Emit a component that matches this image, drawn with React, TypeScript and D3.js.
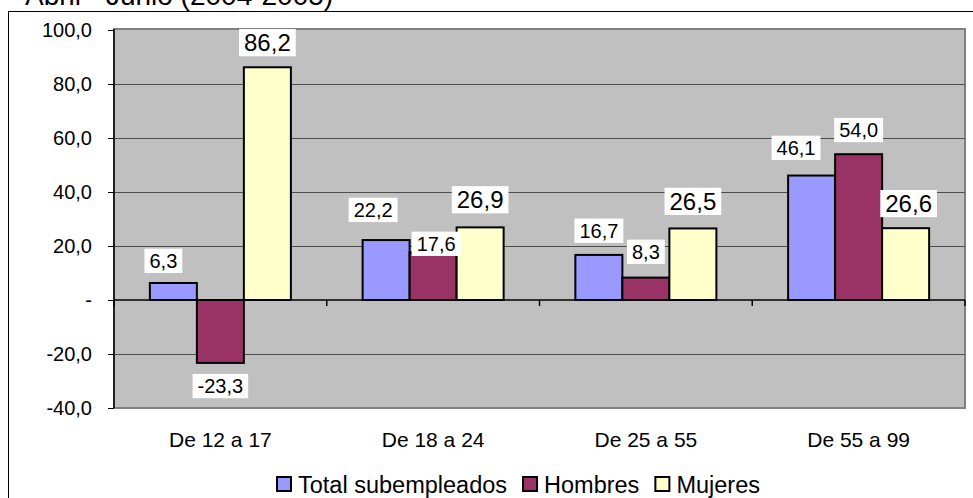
import React from "react";
import * as d3 from "d3";

const title = "Abril - Junio (2004-2005)";
const categories = ["De 12 a 17", "De 18 a 24", "De 25 a 55", "De 55 a 99"];
const seriesNames = ["Total subempleados", "Hombres", "Mujeres"];
const totalValues = [6.3, 22.2, 16.7, 46.1];
const hombresValues = [-23.3, 17.6, 8.3, 54.0];
const mujeresValues = [86.2, 26.9, 26.5, 26.6];
const yTicks = [-40, -20, 0, 20, 40, 60, 80, 100];

const seriesColors = ["#9999ff", "#993366", "#ffffcc"];
const labelSizes = [20, 20, 24];
// small nudges so labels sit where the original spreadsheet put them [dx, dy]
const labelNudge = [
  [[-10, 2], [0, 0], [0, 1]],
  [[-13, -6], [3, 15.5], [0, -2]],
  [[0, 0], [0, -1.6], [0, -1.5]],
  [[-15.6, -3.5], [0, 0], [3, 1]],
];

const W = 973;
const H = 498;
const plot = { left: 114, right: 965, top: 30, bottom: 408 };
const font = "'Liberation Sans', Arial, sans-serif";

// spanish style: decimal comma, plain hyphen for the minus sign
const locale = d3.formatLocale({
  decimal: ",",
  thousands: ".",
  grouping: [3],
  currency: ["", ""],
  minus: "-",
});
const comma = locale.format(".1f");

class App extends React.Component {
  svg: SVGSVGElement | null = null;

  componentDidMount() {
    this.drawChart();
  }

  shouldComponentUpdate() {
    return false;
  }

  drawChart() {
    const svg = d3.select(this.svg);
    svg.selectAll("*").remove();
    const series = [totalValues, hombresValues, mujeresValues];

    // outer chart frame
    svg.append("rect")
      .attr("x", 8.5).attr("y", 11.5)
      .attr("width", 1200).attr("height", 800)
      .attr("fill", "none").attr("stroke", "#000").attr("stroke-width", 1);

    svg.append("text")
      .attr("x", 25).attr("y", 5)
      .attr("font-family", font).attr("font-size", 28)
      .text(title);

    const x = d3.scaleBand<string>()
      .domain(categories)
      .range([plot.left, plot.right])
      .paddingInner(0).paddingOuter(0);

    const xs = d3.scaleBand<string>()
      .domain(seriesNames)
      .range([0, x.bandwidth()])
      .paddingInner(0).paddingOuter(0.763);

    const y = d3.scaleLinear().domain([-40, 100]).range([plot.bottom, plot.top]);

    // plot area
    svg.append("rect")
      .attr("x", plot.left).attr("y", plot.top - 1)
      .attr("width", plot.right - plot.left).attr("height", plot.bottom - plot.top + 1)
      .attr("fill", "#c0c0c0").attr("stroke", "#808080").attr("stroke-width", 2);

    // gridlines
    svg.append("g")
      .selectAll("line")
      .data(yTicks.filter((t) => t !== 0 && t !== -40 && t !== 100))
      .enter().append("line")
      .attr("x1", plot.left).attr("x2", plot.right)
      .attr("y1", (d) => Math.round(y(d)) + 0.5).attr("y2", (d) => Math.round(y(d)) + 0.5)
      .attr("stroke", "#4d4d4d").attr("stroke-width", 1);

    // bars
    categories.forEach((c, ci) => {
      seriesNames.forEach((s, si) => {
        const v = series[si][ci];
        svg.append("rect")
          .attr("x", (x(c) as number) + (xs(s) as number))
          .attr("width", xs.bandwidth())
          .attr("y", y(Math.max(0, v)))
          .attr("height", Math.abs(y(v) - y(0)))
          .attr("fill", seriesColors[si])
          .attr("stroke", "#000").attr("stroke-width", 2);
      });
    });

    // y axis
    const yAxis = svg.append("g")
      .attr("transform", "translate(" + plot.left + ",0)")
      .call(d3.axisLeft(y).tickValues(yTicks).tickSize(6).tickPadding(16)
        .tickFormat((d) => (+d === 0 ? "-" : comma(+d))));
    yAxis.select(".domain").attr("stroke", "#000").attr("stroke-width", 1.5)
      .attr("d", "M0," + (plot.top - 1) + "V" + plot.bottom);
    yAxis.selectAll("text").attr("font-family", font).attr("font-size", 20).attr("fill", "#000");

    // x axis at zero
    svg.append("line")
      .attr("x1", plot.left).attr("x2", plot.right)
      .attr("y1", y(0)).attr("y2", y(0))
      .attr("stroke", "#000").attr("stroke-width", 1.5);
    svg.append("g")
      .selectAll("line")
      .data(d3.range(categories.length + 1))
      .enter().append("line")
      .attr("x1", (i) => plot.left + i * x.step()).attr("x2", (i) => plot.left + i * x.step())
      .attr("y1", y(0)).attr("y2", y(0) + 6)
      .attr("stroke", "#000").attr("stroke-width", 1.5);

    svg.append("g")
      .selectAll("text")
      .data(categories)
      .enter().append("text")
      .attr("x", (d) => (x(d) as number) + x.bandwidth() / 2)
      .attr("y", 447)
      .attr("text-anchor", "middle")
      .attr("font-family", font).attr("font-size", 21)
      .text((d) => d);

    // data labels on white boxes
    categories.forEach((c, ci) => {
      seriesNames.forEach((s, si) => {
        const v = series[si][ci];
        const fs = labelSizes[si];
        const boxH = fs * 0.716 + 10;
        const [dx, dy] = labelNudge[ci][si];
        const cx = (x(c) as number) + (xs(s) as number) + xs.bandwidth() / 2 + dx;
        const bottom = v >= 0 ? y(v) - 12 + dy : y(v) + 11 + boxH + dy;
        const g = svg.append("g");
        const t = g.append("text")
          .attr("x", cx).attr("y", bottom - 5)
          .attr("text-anchor", "middle")
          .attr("font-family", font).attr("font-size", fs)
          .text(comma(v));
        const tw = (t.node() as SVGTextElement).getComputedTextLength();
        g.insert("rect", "text")
          .attr("x", cx - tw / 2 - 5).attr("y", bottom - boxH)
          .attr("width", tw + 10).attr("height", boxH)
          .attr("fill", "#fff");
      });
    });

    // legend
    let lx = 277;
    seriesNames.forEach((s, si) => {
      svg.append("rect")
        .attr("x", lx).attr("y", 477)
        .attr("width", 14).attr("height", 14)
        .attr("fill", seriesColors[si]).attr("stroke", "#000").attr("stroke-width", 2);
      const t = svg.append("text")
        .attr("x", lx + 21).attr("y", 493)
        .attr("font-family", font).attr("font-size", 23.5)
        .text(s);
      lx += 21 + (t.node() as SVGTextElement).getComputedTextLength() + 16;
    });
  }

  render() {
    return (
      <svg
        width={W}
        height={H}
        style={{ position: "absolute", left: 0, top: 0, background: "#fff" }}
        ref={(elem) => { this.svg = elem; }}
      ></svg>
    );
  }
}

export default App;
